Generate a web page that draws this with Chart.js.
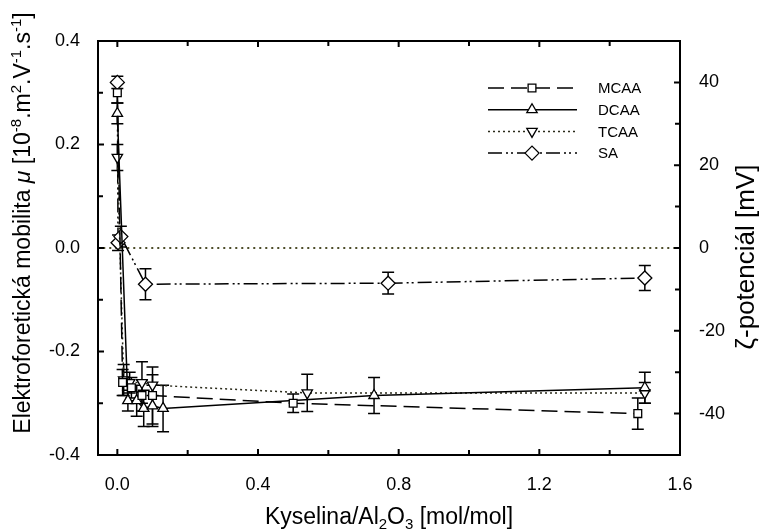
<!DOCTYPE html>
<html>
<head>
<meta charset="utf-8">
<script src="https://cdn.jsdelivr.net/npm/chart.js@4/dist/chart.umd.min.js"></script>
<style>
html, body { margin: 0; padding: 0; background: #fff; }
#wrap { width: 765px; height: 531px; }
</style>
</head>
<body>
<div id="wrap"><canvas id="chart" width="765" height="531"></canvas></div>
<script>
// DATA (mobility in 1e-8 m2/V/s vs acid/Al2O3 mol ratio)
const mcaaX = [0, 0.015, 0.04, 0.07, 0.1, 0.5, 1.48];
const mcaaY = [0.30, -0.26, -0.27, -0.285, -0.285, -0.30, -0.32];
const mcaaErr = [0.02, 0.025, 0.02, 0.03, 0.055, 0.018, 0.03];

const dcaaX = [0, 0.03, 0.055, 0.075, 0.1, 0.13, 0.73, 1.5];
const dcaaY = [0.26, -0.295, -0.295, -0.31, -0.305, -0.31, -0.285, -0.27];
const dcaaErr = [0.02, 0.02, 0.03, 0.035, 0.04, 0.045, 0.035, 0.03];

const tcaaX = [0, 0.018, 0.035, 0.07, 0.1, 0.54, 1.5];
const tcaaY = [0.175, -0.255, -0.26, -0.26, -0.265, -0.28, -0.28];
const tcaaErr = [0.025, 0.03, 0.02, 0.04, 0.02, 0.036, 0.02];

const saX = [0, 0.002, 0.01, 0.08, 0.77, 1.5];
const saY = [0.32, 0.01, 0.022, -0.07, -0.068, -0.058];
const saErr = [0.012, 0.015, 0.02, 0.03, 0.021, 0.024];

const zeroX = [-0.04, 1.6];
const zeroY = [0, 0];

const labels = ['MCAA', 'DCAA', 'TCAA', 'SA'];

const xTickVals = [0, 0.2, 0.4, 0.6, 0.8, 1.0, 1.2, 1.4, 1.6];
const xTickLabels = ['0.0', '', '0.4', '', '0.8', '', '1.2', '', '1.6'];
const yTickVals = [-0.4, -0.3, -0.2, -0.1, 0, 0.1, 0.2, 0.3, 0.4];
const yTickLabels = ['-0.4', '', '-0.2', '', '0.0', '', '0.2', '', '0.4'];
const y2TickVals = [-40, -30, -20, -10, 0, 10, 20, 30, 40];
const y2TickLabels = ['-40', '', '-20', '', '0', '', '20', '', '40'];

// axis titles as runs: [text, size, raise, italic]
const yTitle = [['Elektroforetická mobilita ', 23, 0], ['μ', 23, 0, true], [' [10', 23, 0], ['-8', 15, 9],
  ['.m', 23, 0], ['2', 15, 9], ['.V', 23, 0], ['-1', 15, 9], ['.s', 23, 0], ['-1', 15, 9], [']', 23, 0]];
const xTitle = [['Kyselina/Al', 23, 0], ['2', 15, -5], ['O', 23, 0], ['3', 15, -5], [' [mol/mol]', 23, 0]];
const y2Title = [['ζ-potenciál [mV]', 26, 0]];

const FONT = "'Liberation Sans', Arial, sans-serif";
const pts = (xs, ys) => xs.map((x, i) => ({ x, y: ys[i] }));
const errs = { MCAA: mcaaErr, DCAA: dcaaErr, TCAA: tcaaErr, SA: saErr };

Chart.defaults.font.family = FONT;
Chart.defaults.color = '#000';

function series(label, xs, ys, dash, style, radius, rot, color) {
  return {
    label, data: pts(xs, ys), showLine: true,
    borderColor: color, borderWidth: 1.5, borderDash: dash,
    pointStyle: style, pointRadius: radius, pointRotation: rot,
    pointBackgroundColor: '#fff', pointBorderColor: '#000', pointBorderWidth: 1.3,
    fill: false, tension: 0
  };
}

// draw a run of text centred on (0,0) in the current transform, alphabetic baseline
function drawRuns(ctx, runs) {
  const fnt = r => (r[3] ? 'italic ' : '') + r[1] + 'px ' + FONT;
  let total = 0;
  runs.forEach(r => { ctx.font = fnt(r); total += ctx.measureText(r[0]).width; });
  let x = -total / 2;
  ctx.textAlign = 'left';
  ctx.textBaseline = 'alphabetic';
  runs.forEach(r => {
    ctx.font = fnt(r);
    ctx.fillText(r[0], x, -r[2]);
    x += ctx.measureText(r[0]).width;
  });
}

// error bars under the markers
const errorBars = {
  id: 'errorBars',
  beforeDatasetsDraw(chart) {
    const ctx = chart.ctx, xs = chart.scales.x, ys = chart.scales.y;
    ctx.save();
    ctx.strokeStyle = '#000';
    ctx.lineWidth = 1.5;
    chart.data.datasets.forEach(ds => {
      const e = errs[ds.label];
      if (!e) return;
      ds.data.forEach((p, i) => {
        const px = xs.getPixelForValue(p.x);
        const t = ys.getPixelForValue(p.y + e[i]), b = ys.getPixelForValue(p.y - e[i]);
        ctx.beginPath();
        ctx.moveTo(px, t); ctx.lineTo(px, b);
        ctx.moveTo(px - 6, t); ctx.lineTo(px + 6, t);
        ctx.moveTo(px - 6, b); ctx.lineTo(px + 6, b);
        ctx.stroke();
      });
    });
    ctx.restore();
  }
};

// frame, inward ticks, legend, axis titles
const decor = {
  id: 'decor',
  afterDraw(chart) {
    const ctx = chart.ctx, a = chart.chartArea;
    const xs = chart.scales.x, ys = chart.scales.y, y2 = chart.scales.y2;
    ctx.save();
    ctx.strokeStyle = '#000';
    ctx.lineWidth = 2;
    ctx.strokeRect(a.left, a.top, a.right - a.left, a.bottom - a.top);
    ctx.beginPath();
    xTickVals.forEach((v, i) => {
      const p = xs.getPixelForValue(v), l = xTickLabels[i] ? 6 : 5;
      ctx.moveTo(p, a.bottom); ctx.lineTo(p, a.bottom - l);
      ctx.moveTo(p, a.top); ctx.lineTo(p, a.top + l);
    });
    yTickVals.forEach((v, i) => {
      const p = ys.getPixelForValue(v), l = yTickLabels[i] ? 6 : 5;
      ctx.moveTo(a.left, p); ctx.lineTo(a.left + l, p);
    });
    y2TickVals.forEach((v, i) => {
      const p = y2.getPixelForValue(v), l = y2TickLabels[i] ? 6 : 5;
      ctx.moveTo(a.right, p); ctx.lineTo(a.right - l, p);
    });
    ctx.stroke();

    // legend
    ctx.font = '15px ' + FONT;
    ctx.textBaseline = 'middle';
    ctx.fillStyle = '#000';
    chart.data.datasets.slice(0, 4).forEach((ds, i) => {
      const y = 88 + i * 21.7;
      ctx.save();
      ctx.strokeStyle = ds.borderColor;
      ctx.lineWidth = ds.borderWidth;
      ctx.setLineDash(ds.borderDash);
      ctx.beginPath(); ctx.moveTo(488, y); ctx.lineTo(577, y); ctx.stroke();
      ctx.restore();
      ctx.save();
      ctx.fillStyle = '#fff'; ctx.strokeStyle = '#000'; ctx.lineWidth = ds.pointBorderWidth;
      Chart.helpers.drawPoint(ctx, { pointStyle: ds.pointStyle, rotation: ds.pointRotation, radius: ds.pointRadius, borderWidth: ds.pointBorderWidth }, 532, y);
      ctx.restore();
      ctx.fillText(ds.label, 598, y + 1);
    });

    // axis titles
    ctx.save(); ctx.translate(30, 223); ctx.rotate(-Math.PI / 2); drawRuns(ctx, yTitle); ctx.restore();
    ctx.save(); ctx.translate(754, 257); ctx.rotate(-Math.PI / 2); drawRuns(ctx, y2Title); ctx.restore();
    ctx.save(); ctx.translate((a.left + a.right) / 2, 524); drawRuns(ctx, xTitle); ctx.restore();
    ctx.restore();
  }
};

new Chart(document.getElementById('chart'), {
  type: 'scatter',
  data: {
    datasets: [
      series(labels[0], mcaaX, mcaaY, [16, 7], 'rect', 5.5, 0, '#000'),
      series(labels[1], dcaaX, dcaaY, [], 'triangle', 6, 0, '#000'),
      series(labels[2], tcaaX, tcaaY, [2, 3], 'triangle', 6, 180, '#2a2a1a'),
      series(labels[3], saX, saY, [14, 4, 2, 3, 2, 4], 'rectRot', 7, 0, '#000'),
      { label: 'zero', data: pts(zeroX, zeroY), showLine: true, borderColor: '#4d4d2a',
        borderWidth: 1.8, borderDash: [2, 4], pointRadius: 0, fill: false }
    ]
  },
  options: {
    responsive: false,
    animation: false,
    layout: { padding: { top: 41, left: 0, right: 0, bottom: 0 } },
    plugins: { legend: { display: false }, tooltip: { enabled: false } },
    scales: {
      x: {
        type: 'linear', position: 'bottom', min: -0.055, max: 1.6,
        grid: { display: false }, border: { display: false },
        afterBuildTicks: s => { s.ticks = xTickVals.map(v => ({ value: v })); },
        afterFit: s => { s.height = 76; },
        ticks: { autoSkip: false, maxRotation: 0, padding: 11, font: { size: 18 },
          callback: (v, i) => xTickLabels[i] }
      },
      y: {
        type: 'linear', position: 'left', min: -0.4, max: 0.4,
        grid: { display: false }, border: { display: false },
        afterBuildTicks: s => { s.ticks = yTickVals.map(v => ({ value: v })); },
        afterFit: s => { s.width = 98; },
        ticks: { autoSkip: false, padding: 10, font: { size: 18 },
          callback: (v, i) => yTickLabels[i] }
      },
      y2: {
        type: 'linear', position: 'right', min: -50, max: 50,
        grid: { display: false }, border: { display: false },
        afterBuildTicks: s => { s.ticks = y2TickVals.map(v => ({ value: v })); },
        afterFit: s => { s.width = 85; },
        ticks: { autoSkip: false, padding: 11, font: { size: 18 },
          callback: (v, i) => y2TickLabels[i] }
      }
    }
  },
  plugins: [errorBars, decor]
});
</script>
</body>
</html>
